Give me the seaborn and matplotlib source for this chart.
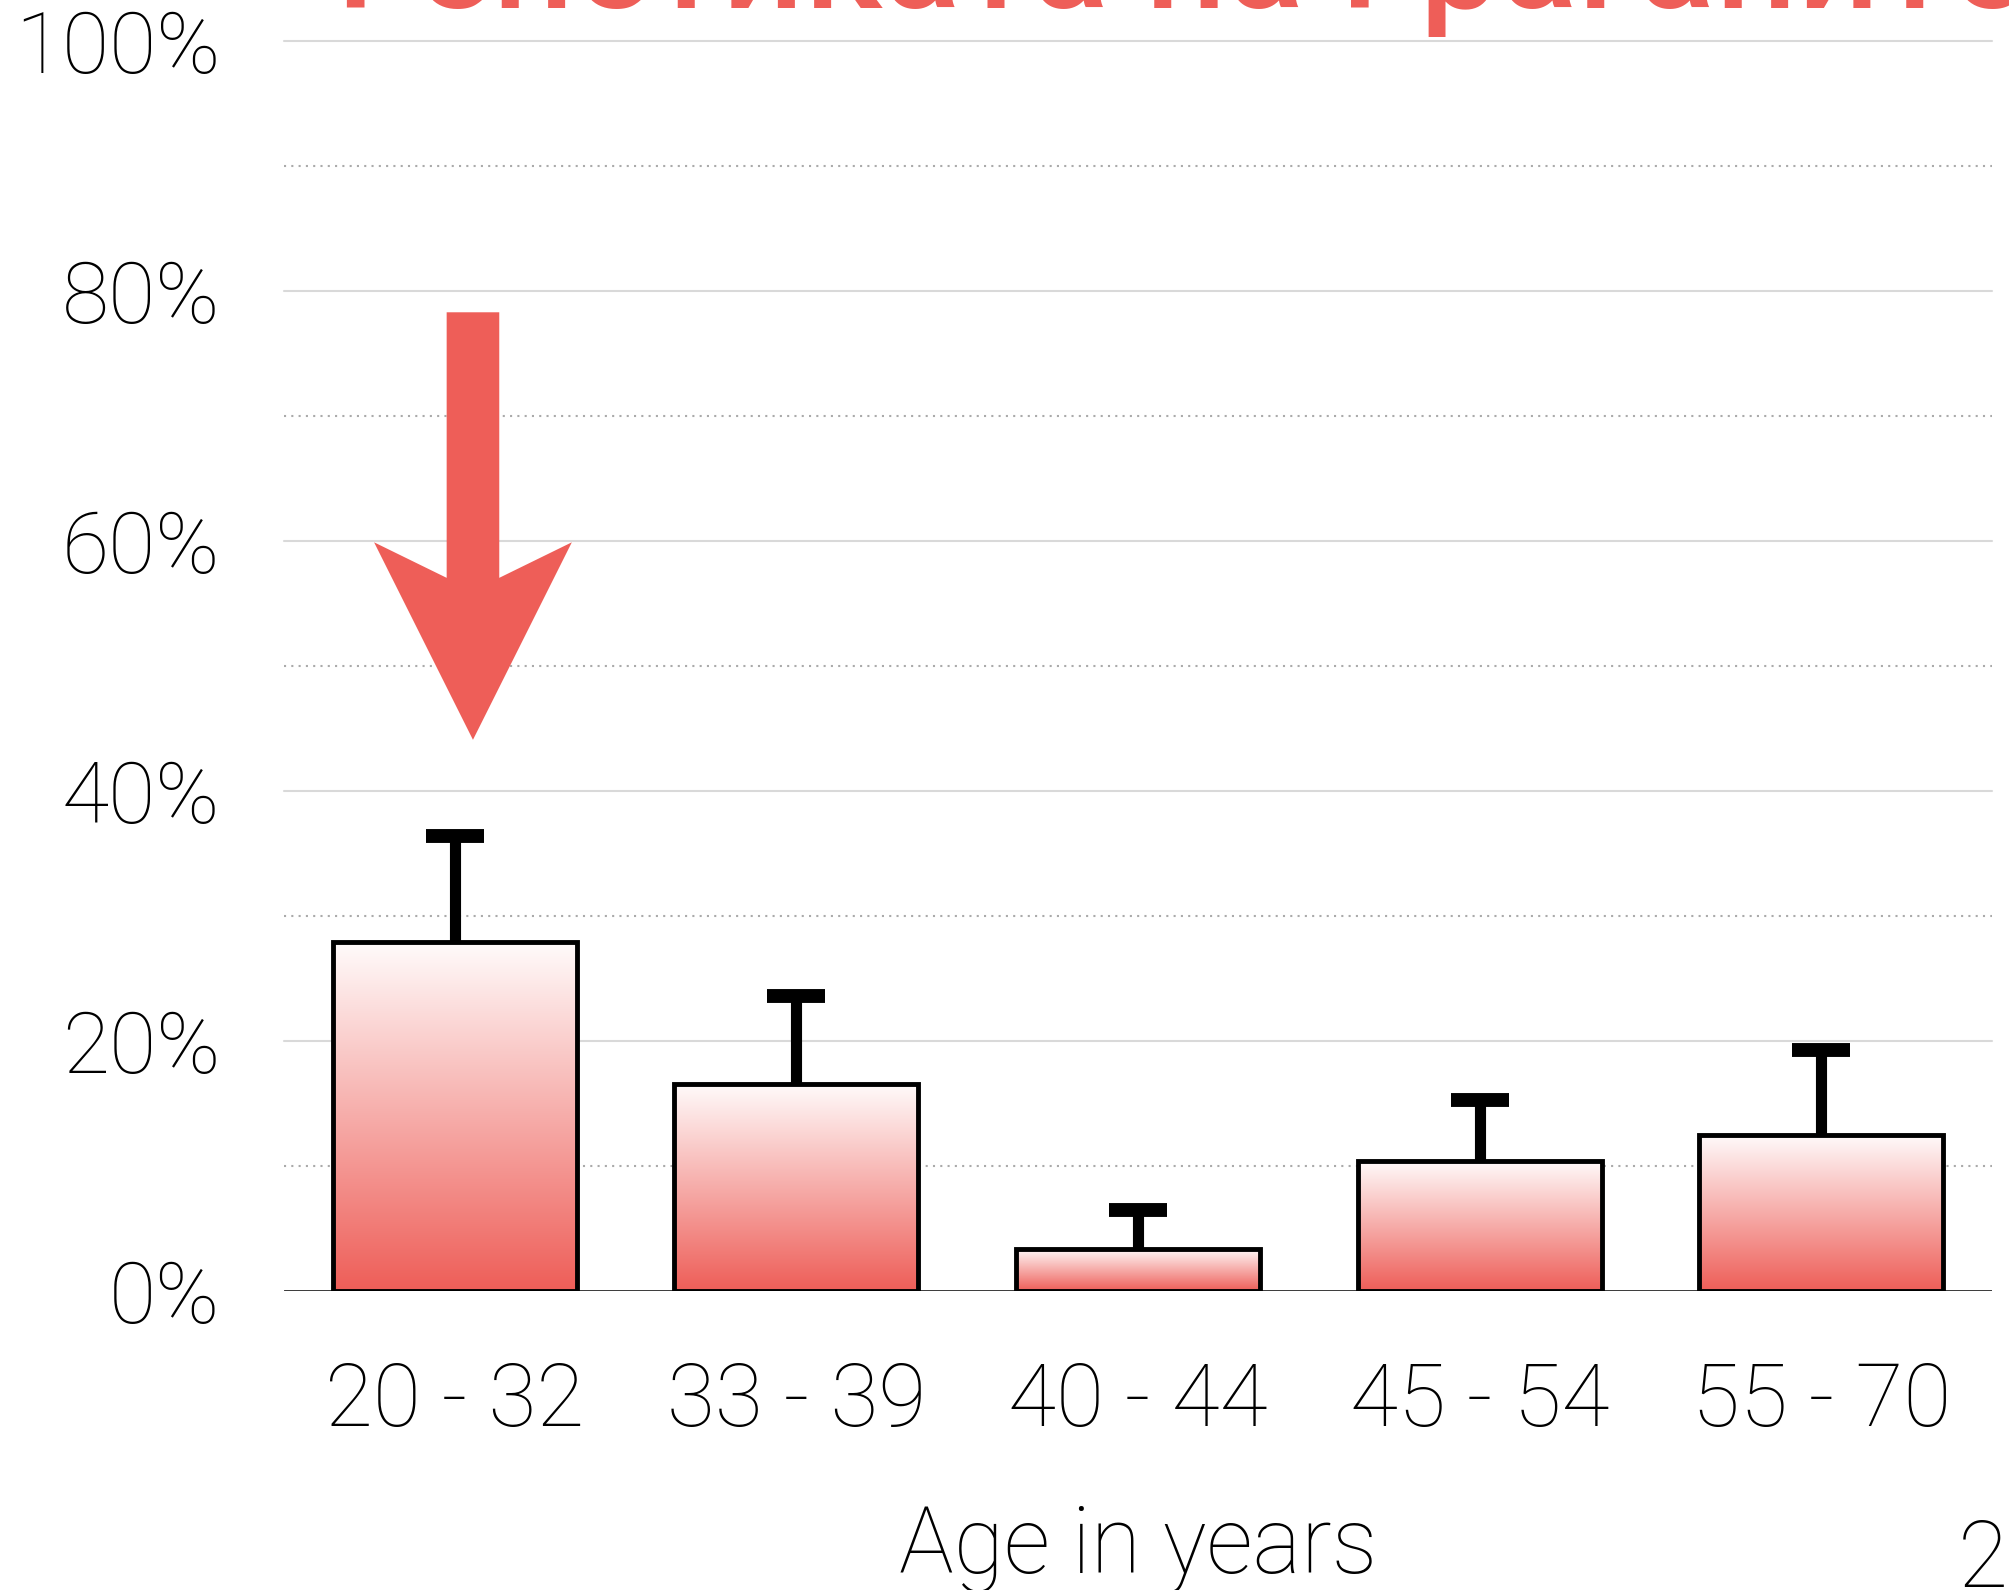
import numpy as np
import matplotlib
matplotlib.use('Agg')
import matplotlib.pyplot as plt
from matplotlib.colors import LinearSegmentedColormap
from matplotlib.patches import FancyArrow
import seaborn as sns

# values (percent)
age_groups = ['20 - 32', '33 - 39', '40 - 44', '45 - 54', '55 - 70']
rate = [27.9, 16.6, 3.4, 10.4, 12.5]
rate_err = [8.5, 7.0, 3.1, 4.9, 6.8]
major_ticks = [0, 20, 40, 60, 80, 100]
minor_ticks = [10, 30, 50, 70, 90]
title = 'Генетиката на Граѓаните'
red = '#EE5E58'

sns.set_theme(style='white')
plt.rcParams['font.family'] = ['Roboto', 'DejaVu Sans']

fig = plt.figure(figsize=(20.09, 15.9), dpi=100)
ax = fig.add_axes([0.1414, 0.188, 0.8501, 0.7862])

# grid: solid every 20%, dotted in between
for v in major_ticks[1:]:
    ax.axhline(v, color='#D9D9D9', lw=1.5, zorder=0, clip_on=False)
for v in minor_ticks:
    ax.axhline(v, color='#AAAAAA', lw=1.5, ls=(0, (1, 2.5)), zorder=0)

sns.barplot(x=age_groups, y=rate, ax=ax, width=0.714, color='white',
            edgecolor='black', linewidth=3.5, zorder=3)

# white-to-red gradient inside every bar
fade = LinearSegmentedColormap.from_list('fade', ['#FFFBFB', red])
grad = np.linspace(0, 1, 256).reshape(-1, 1)
for bar in ax.patches:
    bar.set_facecolor('none')
    x0, w = bar.get_x(), bar.get_width()
    y0, h = bar.get_y(), bar.get_height()
    img = ax.imshow(grad, cmap=fade, aspect='auto', origin='upper',
                    extent=[x0, x0 + w, y0, y0 + h], zorder=2)
    img.set_clip_path(bar)

# upper error bars only
xs = np.arange(len(age_groups))
tops = np.array(rate) + np.array(rate_err)
ax.vlines(xs, rate, tops, color='black', lw=8, zorder=4)
ax.hlines(tops, xs - 0.085, xs + 0.085, color='black', lw=10, zorder=4)

# big arrow pointing at the youngest group
ax.add_patch(FancyArrow(0.053, 78.3, 0, -34.2, width=0.154, head_width=0.579,
                        head_length=15.8, overhang=0.18, length_includes_head=True,
                        color=red, lw=0, zorder=5))

ax.axhline(0, color='black', lw=1.8, zorder=5)
ax.set_xlim(-0.5, 4.5)
ax.set_ylim(0, 100)
for s in ax.spines.values():
    s.set_visible(False)

ax.set_yticks(major_ticks)
ax.set_yticklabels([f'{v}%' for v in major_ticks], fontsize=62, fontweight='light')
ax.set_xticks(xs)
ax.set_xticklabels(age_groups, fontsize=63, fontweight='light')
ax.tick_params(axis='both', length=0, labelcolor='black')
ax.tick_params(axis='y', pad=46)
ax.tick_params(axis='x', pad=50)
ax.set_xlabel('')
ax.set_ylabel('')

cx = 0.1414 + 0.8501 / 2
fig.text(cx, 17 / 1590, 'Age in years', ha='center', va='baseline',
         fontsize=66, fontweight='light', color='black')
fig.text(1958 / 2009, 3 / 1590, '20', ha='left', va='baseline',
         fontsize=66, fontweight='light', color='black')
fig.text(336 / 2009, 1 - 8 / 1590, title, ha='left', va='baseline',
         fontsize=103, fontweight='medium', color=red)

fig.savefig('out.png', dpi=100)
